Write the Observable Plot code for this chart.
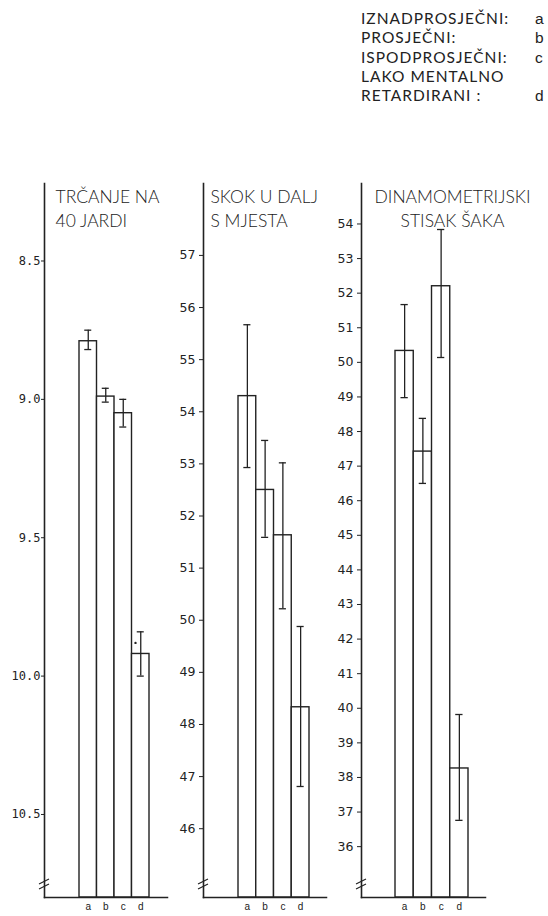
<!DOCTYPE html>
<html>
<head>
<meta charset="utf-8">
<script src="https://cdn.jsdelivr.net/npm/d3@7"></script>
<script src="https://cdn.jsdelivr.net/npm/@observablehq/plot@0.6"></script>
<style>
  body { margin: 0; background: #fff; }
  #wrap { position: relative; width: 548px; height: 916px; overflow: hidden; background: #fff; }
  .panel { position: absolute; top: 0; }
  #legend { position: absolute; left: 361px; top: 9px; width: 184px; font-family: Lato, "Noto Sans", sans-serif; font-weight: 400; font-size: 15.5px; letter-spacing: 1px; color: #222; line-height: 19.3px; }
  #legend .row { display: flex; justify-content: space-between; white-space: pre; }
  #legend .key { font-family: "Liberation Sans", Arial, sans-serif; letter-spacing: 0; width: 10px; text-align: left; }
</style>
</head>
<body>
<div id="wrap"><div id="legend"></div></div>
<script>
// ---- data ----
const groups = ["a", "b", "c", "d"];
const groupNames = ["IZNADPROSJEČNI:", "PROSJEČNI:", "ISPODPROSJEČNI:", "LAKO MENTALNO\nRETARDIRANI :"];

// Panel 1: 40-yard run (seconds), axis reversed
const runTitle = "TRČANJE NA\n40 JARDI";
const runTicks = [8.5, 9.0, 9.5, 10.0, 10.5];
const runMean = [8.79, 8.99, 9.05, 9.92];
const runLow  = [8.75, 8.96, 9.00, 9.84];
const runHigh = [8.82, 9.01, 9.10, 10.00];
const runMarkGroup = "d";
const runMarkValue = 9.88;

// Panel 2: standing long jump
const jumpTitle = "SKOK U DALJ\nS MJESTA";
const jumpTicks = [46, 47, 48, 49, 50, 51, 52, 53, 54, 55, 56, 57];
const jumpMean = [54.30, 52.50, 51.63, 48.33];
const jumpLow  = [52.93, 51.59, 50.22, 46.81];
const jumpHigh = [55.67, 53.45, 53.02, 49.88];

// Panel 3: hand-grip dynamometry
const gripTitle = "DINAMOMETRIJSKI\nSTISAK ŠAKA";
const gripTicks = [36, 37, 38, 39, 40, 41, 42, 43, 44, 45, 46, 47, 48, 49, 50, 51, 52, 53, 54];
const gripMean = [50.33, 47.42, 52.20, 38.26];
const gripLow  = [48.98, 46.50, 50.14, 36.76];
const gripHigh = [51.67, 48.38, 53.84, 39.82];

// ---- legend ----
const legend = document.getElementById("legend");
groupNames.forEach((name, i) => {
  const lines = name.split("\n");
  lines.forEach((ln, j) => {
    const row = document.createElement("div");
    row.className = "row";
    const a = document.createElement("span"); a.textContent = ln;
    const b = document.createElement("span"); b.className = "key";
    b.textContent = j === lines.length - 1 ? groups[i] : "";
    row.append(a, b);
    legend.append(row);
  });
});

const INK = "#222";

function breakMark(index, scales, values, dim) {
  const g = d3.create("svg:g").attr("stroke", INK).attr("stroke-width", 1.2).attr("fill", "none");
  const x = dim.marginLeft, y = dim.height - dim.marginBottom - 13;
  for (const off of [-2.5, 2.5]) {
    g.append("line").attr("x1", x - 5).attr("y1", y + off + 2.5).attr("x2", x + 5).attr("y2", y + off - 2.5);
  }
  return g.node();
}

function panel(o) {
  const rows = groups.map((g, i) => ({ g, i, mean: o.mean[i], lo: o.low[i], hi: o.high[i] }));
  const extra = o.extra || [];
  const chart = Plot.plot({
    width: o.width, height: 916,
    marginTop: 183, marginBottom: 19, marginLeft: o.marginLeft, marginRight: o.marginRight,
    x: { type: "linear", domain: [0, 4], range: o.xRange },
    y: { domain: o.yDomain },
    style: { background: "transparent", color: INK, overflow: "visible" },
    marks: [
      Plot.rectY(rows, { x1: d => d.i, x2: d => d.i + 1, y1: o.yDomain[0], y2: "mean", fill: "white", stroke: INK, strokeWidth: 1.4 }),
      Plot.ruleX(rows, { x: d => d.i + 0.5, y1: "lo", y2: "hi", stroke: INK, strokeWidth: 1.3 }),
      Plot.ruleY(rows, { y: "lo", x1: d => d.i + 0.3, x2: d => d.i + 0.7, stroke: INK, strokeWidth: 1.3 }),
      Plot.ruleY(rows, { y: "hi", x1: d => d.i + 0.3, x2: d => d.i + 0.7, stroke: INK, strokeWidth: 1.3 }),
      ...extra,
      Plot.axisY({ ticks: o.ticks, tickFormat: o.fmt, tickSize: o.tickSize, tickPadding: o.tickPadding, label: null, fontSize: o.tickFontSize, fontFamily: o.tickFont, stroke: INK }),
      Plot.axisX({ ticks: [0.5, 1.5, 2.5, 3.5], tickFormat: t => groups[Math.floor(t)], tickSize: 0, tickPadding: 5, label: null, fontSize: 10, fontFamily: "Liberation Sans, sans-serif" }),
      Plot.frame({ anchor: "left", stroke: INK, strokeWidth: 1.6 }),
      Plot.frame({ anchor: "bottom", stroke: INK, strokeWidth: 1.5 }),
      breakMark,
      Plot.text([o.title], { text: d => d, frameAnchor: "top-left", textAnchor: o.titleAnchor, lineAnchor: "top", dx: o.titleDx, dy: 3, lineHeight: 1.36, fontSize: 17.5, fontFamily: "Lato, Noto Sans, sans-serif", fontWeight: 300, fill: INK })
    ]
  });
  chart.classList.add("panel");
  chart.style.left = o.left + "px";
  document.getElementById("wrap").append(chart);
}

panel({
  left: 0, width: 180, marginLeft: 44, marginRight: 13, xRange: [79, 149],
  yDomain: [10.8, 8.22], ticks: runTicks, fmt: d3.format(".1f"),
  tickSize: 3, tickPadding: 1, tickFontSize: 12, tickFont: "DejaVu Sans Mono, monospace",
  mean: runMean, low: runLow, high: runHigh,
  title: runTitle, titleDx: 11, titleAnchor: "start",
  extra: [Plot.dot([{ g: runMarkGroup, v: runMarkValue }], { x: d => groups.indexOf(d.g) + 0.2, y: "v", r: 1.2, fill: INK, stroke: null })]
});
panel({
  left: 180, width: 160, marginLeft: 23, marginRight: 14, xRange: [58, 129],
  yDomain: [44.68, 58.38], ticks: jumpTicks, fmt: d3.format("d"),
  tickSize: 4, tickPadding: 4, tickFontSize: 12.5, tickFont: "DejaVu Sans, sans-serif",
  mean: jumpMean, low: jumpLow, high: jumpHigh,
  title: jumpTitle, titleDx: 7, titleAnchor: "start"
});
panel({
  left: 340, width: 208, marginLeft: 21, marginRight: 63, xRange: [55, 128],
  yDomain: [34.53, 55.17], ticks: gripTicks, fmt: d3.format("d"),
  tickSize: 4, tickPadding: 4, tickFontSize: 12.5, tickFont: "DejaVu Sans, sans-serif",
  mean: gripMean, low: gripLow, high: gripHigh,
  title: gripTitle, titleDx: 91, titleAnchor: "middle"
});
</script>
</body>
</html>
